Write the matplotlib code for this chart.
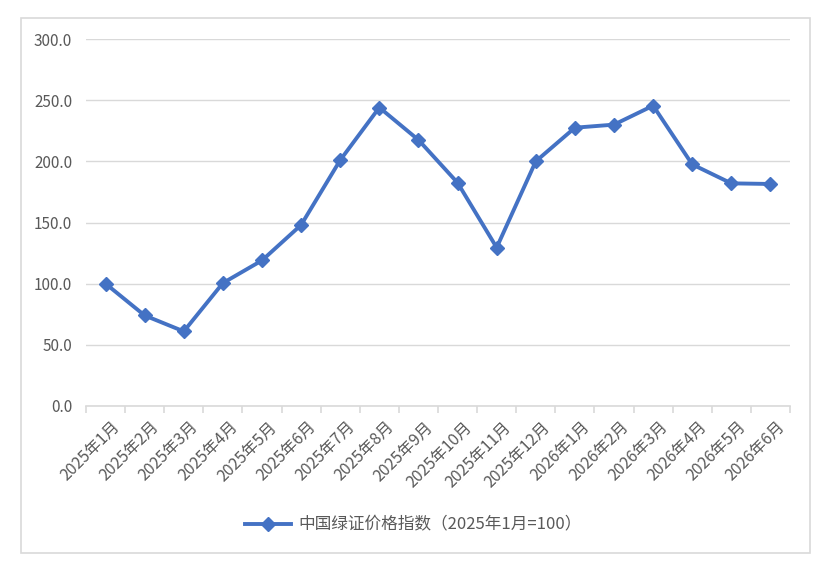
import numpy as np
import matplotlib.pyplot as plt
import matplotlib.transforms as mtransforms
from matplotlib.patches import Rectangle

plt.rcParams['font.family'] = ['Noto Sans CJK SC', 'DejaVu Sans']

# data
months = ['2025年1月', '2025年2月', '2025年3月', '2025年4月', '2025年5月', '2025年6月',
          '2025年7月', '2025年8月', '2025年9月', '2025年10月', '2025年11月', '2025年12月',
          '2026年1月', '2026年2月', '2026年3月', '2026年4月', '2026年5月', '2026年6月']
index_values = [100.0, 74.0, 61.0, 100.5, 119.0, 148.0, 201.0, 244.0, 217.5, 182.5,
                129.5, 200.0, 227.5, 230.0, 245.5, 197.5, 182.0, 181.5]
series_name = '中国绿证价格指数（2025年1月=100）'
y_ticks = [0, 50, 100, 150, 200, 250, 300]

blue = '#4472C4'
grey_text = '#595959'
grid_col = '#D9D9D9'

fig = plt.figure(figsize=(8.31, 5.71), dpi=100)
W, H = 831, 571

# outer chart border like the Excel chart area
fig.patches.append(Rectangle((21 / W, 1 - 553 / H), (810 - 21) / W, (553 - 18) / H,
                             transform=fig.transFigure, fill=False,
                             edgecolor='#D9D9D9', linewidth=1.2))

ax = fig.add_axes([86 / W, 1 - 406 / H, (790 - 86) / W, (406 - 39) / H])
x = np.arange(len(months))
line, = ax.plot(x, index_values, color=blue, linewidth=2.8, marker='D',
                markersize=7.5, label=series_name, zorder=3)

ax.set_xlim(-0.5, len(months) - 0.5)
ax.set_ylim(0, 300)
ax.set_yticks(y_ticks)
ax.set_yticklabels(['%.1f' % v for v in y_ticks])
ax.yaxis.grid(True, color=grid_col, linewidth=1.0)
ax.set_axisbelow(True)

for s in ['top', 'right', 'left']:
    ax.spines[s].set_visible(False)
ax.spines['bottom'].set_color(grid_col)
ax.spines['bottom'].set_linewidth(1.2)

ax.tick_params(axis='y', length=0, pad=10, labelsize=11, labelcolor=grey_text)
ax.set_xticks(np.arange(-0.5, len(months), 1.0))
ax.set_xticklabels([])
ax.tick_params(axis='x', which='major', length=5, color=grid_col, width=1.2)
ax.set_xticks(x, minor=True)
ax.set_xticklabels(months, minor=True, rotation=45, ha='right', va='top',
                   rotation_mode='anchor')
ax.tick_params(axis='x', which='minor', length=0, pad=9, labelsize=11.5,
               labelcolor=grey_text)
# nudge the slanted labels a little to the right, as in the reference
shift = mtransforms.ScaledTranslation(6 / 100, 0, fig.dpi_scale_trans)
for lab in ax.get_xticklabels(minor=True):
    lab.set_transform(lab.get_transform() + shift)

fig.legend(handles=[line], loc='center', bbox_to_anchor=(413 / W, 1 - 525 / H),
           frameon=False, fontsize=12, labelcolor=grey_text, handlelength=2.8,
           handletextpad=0.4)

fig.savefig('out.png', dpi=100, facecolor='white')
